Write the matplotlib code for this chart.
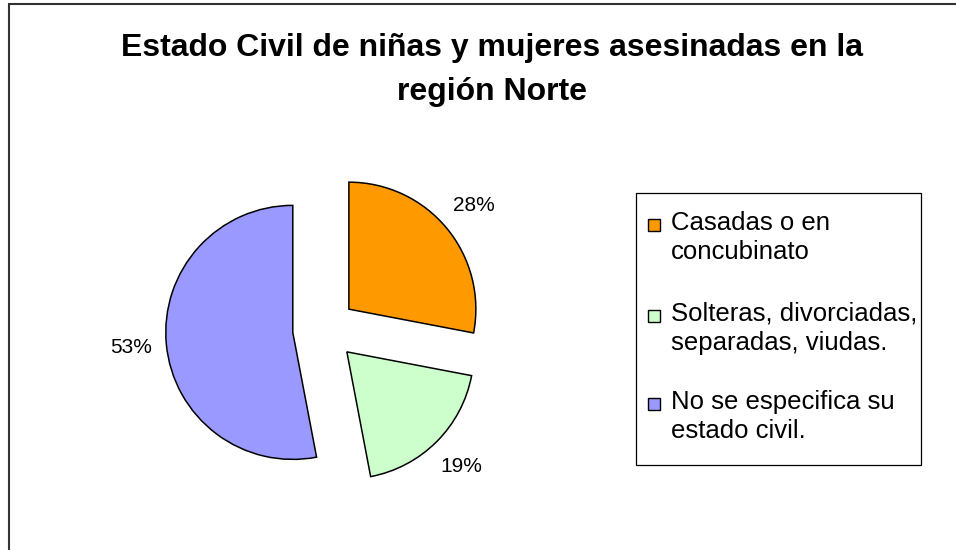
import matplotlib
matplotlib.use("Agg")
import matplotlib.pyplot as plt
from matplotlib.patches import Rectangle

# ---- data ----
categories = ["Casadas o en\nconcubinato",
              "Solteras, divorciadas,\nseparadas, viudas.",
              "No se especifica su\nestado civil."]
values = [28, 19, 53]
colors = ["#FF9900", "#CCFFCC", "#9999FF"]
title = "Estado Civil de niñas y mujeres asesinadas en la\nregión Norte"

W, H = 956, 550
plt.rcParams['font.family'] = ['Liberation Sans', 'DejaVu Sans']

fig = plt.figure(figsize=(W / 100, H / 100), dpi=100)
ax = fig.add_axes([0, 0, 1, 1])
ax.set_xlim(0, W)
ax.set_ylim(0, H)
ax.axis('off')

R = 127
cx, cy = 324.4, H - 329.4
ax.pie(values, colors=colors, startangle=90, counterclock=False,
       radius=R, center=(cx, cy), explode=[0.25 * R] * len(values),
       autopct='%1.0f%%', pctdistance=1.28,
       wedgeprops=dict(edgecolor='black', linewidth=1.1),
       textprops=dict(fontsize=15, color='black'), frame=True)
ax.set_xlim(0, W)
ax.set_ylim(0, H)
ax.set_aspect('auto')
ax.axis('off')

# outer border (left and top)
ax.plot([9, 9, W], [0, H - 4, H - 4], color='#333333', lw=1.5,
        solid_joinstyle='miter', clip_on=False)

# title
ax.text(492, H - 70, title, ha='center', va='center', fontsize=23,
        fontweight='bold', linespacing=1.6)

# legend
ax.add_patch(Rectangle((636, H - 465), 921 - 636, 465 - 193,
                       facecolor='white', edgecolor='black', lw=0.9))
entry_tops = [211, 302, 390]
for lab, col, top in zip(categories, colors, entry_tops):
    ax.add_patch(Rectangle((648, H - (top + 20)), 12, 12, facecolor=col,
                           edgecolor='black', lw=1.0))
    ax.text(671, H - top, lab, ha='left', va='top', fontsize=18.5,
            linespacing=1.25)

fig.savefig("out.png", dpi=100)
